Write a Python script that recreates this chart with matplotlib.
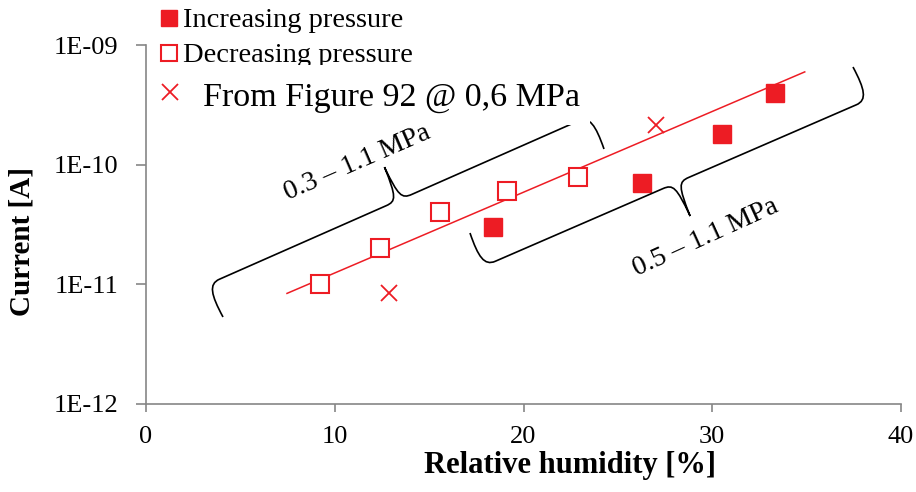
import numpy as np
import matplotlib
matplotlib.use("Agg")
import matplotlib.pyplot as plt
from matplotlib.path import Path
from matplotlib.patches import PathPatch, Rectangle
from matplotlib.lines import Line2D

plt.rcParams['font.family'] = ['Liberation Serif', 'DejaVu Serif']

RED = '#ED1C24'
GREY = '#868686'

# data
inc_rh = [18.4, 26.3, 30.5, 33.3]
inc_cur = [3.0e-11, 7.0e-11, 1.8e-10, 4.0e-10]

dec_rh = [9.2, 12.4, 15.6, 19.1, 22.9]
dec_cur = [1.0e-11, 2.0e-11, 4.0e-11, 6.0e-11, 7.9e-11]

fig92_rh = [12.9, 27.0]
fig92_cur = [8.4e-12, 2.15e-10]

# exponential trendline end points
trend_rh = [7.47, 34.9]
trend_cur = [8.4e-12, 5.96e-10]

legend_labels = ['Increasing pressure', 'Decreasing pressure', 'From Figure 92 @ 0,6 MPa']
brace_labels = ['0.3 \u2013 1.1 MPa', '0.5 \u2013 1.1 MPa']

W, H = 916, 492
fig = plt.figure(figsize=(W / 100, H / 100), dpi=100)
ax = fig.add_axes([146 / W, 1 - 404 / H, 755 / W, 359 / H])


def fx(px):
    return px / W


def fy(py):
    return 1 - py / H


ax.plot(trend_rh, trend_cur, '-', color=RED, lw=1.1, zorder=2)
ax.plot(inc_rh, inc_cur, 's', color=RED, ms=12.5, mec=RED, zorder=3)
ax.plot(dec_rh, dec_cur, 's', mfc='white', mec=RED, mew=1.5, ms=12.5, zorder=3)
ax.plot(fig92_rh, fig92_cur, 'x', color=RED, ms=11, mew=1.3, zorder=3)

ax.set_yscale('log')
ax.set_xlim(0, 40)
ax.set_ylim(1e-12, 1e-9)
ax.set_xticks([0, 10, 20, 30, 40])
ax.set_yticks([1e-12, 1e-11, 1e-10, 1e-9])
ax.set_yticklabels(['1E-12', '1E-11', '1E-10', '1E-09'])
ax.yaxis.set_minor_locator(matplotlib.ticker.NullLocator())

for s in ['top', 'right']:
    ax.spines[s].set_visible(False)
for s in ['left', 'bottom']:
    ax.spines[s].set_color(GREY)
    ax.spines[s].set_linewidth(1.2)

ax.tick_params(axis='x', direction='out', length=6, width=1.2, color=GREY,
               labelsize=19, pad=10)
ax.tick_params(axis='y', direction='out', length=7, width=1.2, color=GREY,
               labelsize=19, pad=13)

ax.set_xlabel('Relative humidity [%]', fontsize=22, fontweight='bold', va='center')
ax.set_ylabel('Current [A]', fontsize=21, fontweight='bold', va='center', ha='center')
ax.xaxis.set_label_coords((570 - 146) / 755, (404 - 466) / 359)
ax.yaxis.set_label_coords((22 - 146) / 755, (404 - 241) / 359)


def brace(tip_a, tip_b, side, h=36):
    a = np.array(tip_a, float)
    b = np.array(tip_b, float)
    L = np.linalg.norm(b - a)
    d = (b - a) / L
    n = np.array([d[1], -d[0]]) * side
    m = L / 2
    loc = [
        (0, 0), (-2, 0.7 * h), (0, h), (12, h),
        (m - 14, h),
        (m - 3, h), (m - 1, h + 4), (m, 2 * h),
        (m + 1, h + 4), (m + 3, h), (m + 14, h),
        (L - 12, h),
        (L, h), (L + 2, 0.7 * h), (L, 0),
    ]
    codes = [Path.MOVETO, Path.CURVE4, Path.CURVE4, Path.CURVE4,
             Path.LINETO,
             Path.CURVE4, Path.CURVE4, Path.CURVE4,
             Path.CURVE4, Path.CURVE4, Path.CURVE4,
             Path.LINETO,
             Path.CURVE4, Path.CURVE4, Path.CURVE4]
    verts = [(fx(x), fy(y)) for x, y in (a + u * d + v * n for u, v in loc)]
    fig.add_artist(PathPatch(Path(verts, codes), fc='none', ec='black',
                             lw=1.2, transform=fig.transFigure, zorder=4))


brace((223, 317), (604, 149), side=1)
brace((470, 233), (853, 67), side=-1)

fig.text(fx(357), fy(163), brace_labels[0], fontsize=20, rotation=23.5,
         rotation_mode='anchor', ha='center', va='center', zorder=6)
fig.text(fx(706), fy(238), brace_labels[1], fontsize=20, rotation=24.5,
         rotation_mode='anchor', ha='center', va='center', zorder=6)

# legend, drawn by hand
fig.add_artist(Line2D([fx(169)], [fy(18)], marker='s', ms=12, color=RED,
                      transform=fig.transFigure, zorder=5))
fig.text(fx(183), fy(27), legend_labels[0], fontsize=20.5, va='baseline', zorder=5)
fig.add_artist(Line2D([fx(169)], [fy(53)], marker='s', ms=12, mfc='white',
                      mec=RED, mew=1.5, transform=fig.transFigure, zorder=5))
fig.text(fx(183), fy(62), legend_labels[1], fontsize=20.5, va='baseline', zorder=5)
fig.add_artist(Rectangle((fx(150), fy(125)), fx(590) - fx(150), fy(65) - fy(125),
                         fc='white', ec='none', transform=fig.transFigure, zorder=5.5))
fig.add_artist(Line2D([fx(170)], [fy(92)], marker='x', ms=11, mew=1.3, color=RED,
                      transform=fig.transFigure, zorder=6))
fig.text(fx(203), fy(106), legend_labels[2], fontsize=24.5, va='baseline', zorder=6)

fig.savefig('out.png', dpi=100)
